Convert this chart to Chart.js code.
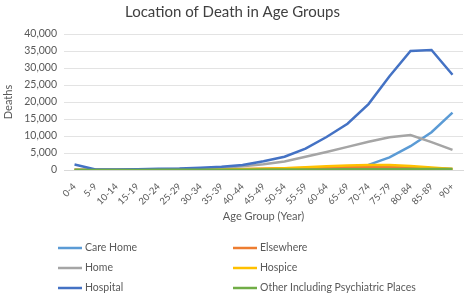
<!DOCTYPE html>
<html>
<head>
<meta charset="utf-8">
<script src="https://cdn.jsdelivr.net/npm/chart.js@4"></script>
<style>
  html, body { margin: 0; padding: 0; background: #fff; }
  #wrap { width: 472px; height: 295px; position: relative; }
</style>
</head>
<body>
<div id="wrap"><canvas id="deathChart"></canvas></div>
<script>
var ages = ['0-4','5-9','10-14','15-19','20-24','25-29','30-34','35-39','40-44','45-49','50-54','55-59','60-64','65-69','70-74','75-79','80-84','85-89','90+'];

var careHome  = [0, 0, 0, 0, 0, 10, 20, 40, 60, 100, 150, 250, 400, 700, 1500, 3700, 7000, 11100, 16900];
var elsewhere = [50, 20, 30, 100, 150, 150, 200, 250, 300, 400, 500, 600, 750, 850, 900, 950, 850, 550, 300];
var home      = [150, 50, 80, 150, 250, 300, 400, 650, 1100, 1700, 2500, 3900, 5300, 6800, 8300, 9600, 10300, 8200, 5900];
var hospice   = [0, 0, 0, 10, 20, 30, 60, 100, 200, 350, 550, 800, 1100, 1300, 1450, 1500, 1200, 700, 300];
var hospital  = [1600, 150, 150, 250, 400, 450, 650, 950, 1500, 2600, 3900, 6300, 9700, 13600, 19400, 27600, 35000, 35300, 28000];
var other     = [0, 0, 10, 30, 50, 60, 70, 80, 100, 120, 140, 160, 180, 200, 220, 250, 300, 300, 300];

var seriesNames = ['Care Home', 'Elsewhere', 'Home', 'Hospice', 'Hospital', 'Other Including Psychiatric Places'];
var seriesData = [careHome, elsewhere, home, hospice, hospital, other];
var seriesColors = ['#5B9BD5', '#ED7D31', '#A5A5A5', '#FFC000', '#4472C4', '#70AD47'];

var yTicks = [0, 5000, 10000, 15000, 20000, 25000, 30000, 35000, 40000];

var FONT = 'Lato, "Open Sans", sans-serif';

// two-column legend like the excel one
var gridLegend = {
  id: 'gridLegend',
  afterDraw: function(chart) {
    var ctx = chart.ctx;
    var colX = [58, 233];
    var rowY = [248, 268, 288];
    ctx.save();
    ctx.font = '10.5px ' + FONT;
    ctx.textBaseline = 'middle';
    ctx.textAlign = 'left';
    chart.data.datasets.forEach(function(ds, i) {
      var x = colX[i % 2], y = rowY[Math.floor(i / 2)];
      ctx.strokeStyle = ds.borderColor;
      ctx.lineWidth = 2.5;
      ctx.beginPath();
      ctx.moveTo(x, y);
      ctx.lineTo(x + 24, y);
      ctx.stroke();
      ctx.fillStyle = '#595959';
      ctx.fillText(ds.label, x + 27, y);
    });
    ctx.restore();
  }
};

var ctx = document.getElementById('deathChart').getContext('2d');

var datasets = seriesNames.map(function(name, i) {
  return {
    label: name,
    data: seriesData[i],
    borderColor: seriesColors[i],
    backgroundColor: seriesColors[i],
    borderWidth: 2.5,
    pointRadius: 0,
    fill: false,
    tension: 0,
    // later series drawn on top, like excel
    order: seriesNames.length - i
  };
});

var deathChart = new Chart(ctx, {
  type: 'line',
  data: { labels: ages, datasets: datasets },
  options: {
    responsive: true,
    maintainAspectRatio: false,
    animation: false,
    layout: { padding: { left: 2, right: 9, top: 0, bottom: 72 } },
    plugins: {
      legend: { display: false },
      tooltip: { enabled: false },
      title: {
        display: true,
        text: 'Location of Death in Age Groups',
        color: '#404040',
        font: { family: FONT, size: 15, weight: 'normal' },
        padding: { top: 3, bottom: 13 }
      }
    },
    scales: {
      x: {
        offset: true,
        grid: { display: false },
        border: { display: true, color: '#d9d9d9' },
        ticks: {
          color: '#595959',
          font: { family: FONT, size: 9.5 },
          maxRotation: 45,
          minRotation: 45,
          autoSkip: false,
          padding: 3
        },
        title: {
          display: true,
          text: 'Age Group (Year)',
          color: '#595959',
          font: { family: FONT, size: 11 },
          padding: { top: 2, bottom: 0 }
        },
        afterFit: function(axis) { axis.height = 53; }
      },
      y: {
        min: 0,
        max: 40000,
        afterBuildTicks: function(axis) {
          axis.ticks = yTicks.map(function(v) { return { value: v }; });
        },
        grid: { color: '#e3e3e3', drawTicks: false },
        border: { display: false },
        ticks: {
          color: '#595959',
          font: { family: FONT, size: 10.5 },
          padding: 7,
          callback: function(v) { return v.toLocaleString('en-US'); }
        },
        title: {
          display: true,
          text: 'Deaths',
          color: '#595959',
          font: { family: FONT, size: 11 },
          padding: { top: 0, bottom: 2 }
        }
      }
    }
  },
  plugins: [gridLegend]
});
</script>
</body>
</html>
